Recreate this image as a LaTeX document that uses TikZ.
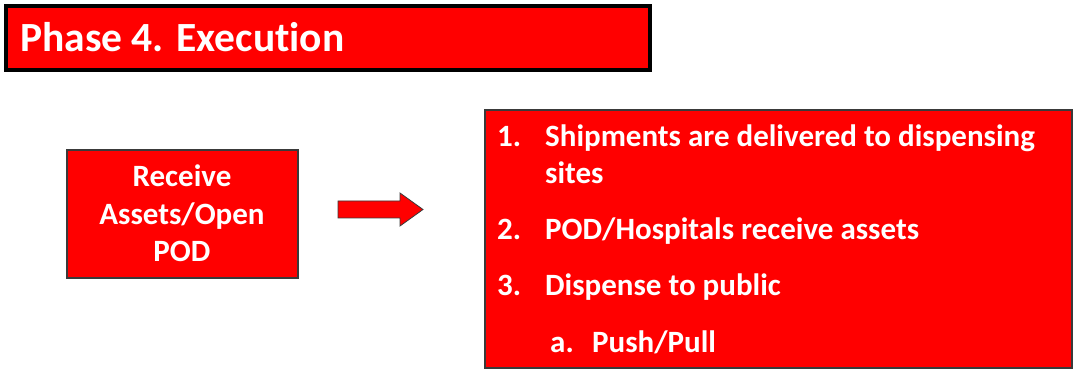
\documentclass[tikz,border=0pt]{standalone}
\usepackage{fontspec}
\setmainfont{Carlito}[Ligatures=NoCommon]
\definecolor{boxred}{HTML}{FF0000}
\definecolor{edge}{HTML}{3A3A3A}
\tikzset{
  redbox/.style={fill=boxred, draw=edge, line width=1.2pt},
  titlebox/.style={fill=boxred, draw=black, line width=4.5pt},
  txt/.style={text=white, font=\bfseries\fontsize{31}{36}\selectfont, inner sep=0pt, anchor=base west},
  ctxt/.style={text=white, font=\bfseries\fontsize{31}{36}\selectfont, inner sep=0pt, anchor=base},
}
\begin{document}
\begin{tikzpicture}[x=1pt, y=-1pt]
\useasboundingbox (0,0) rectangle (1077,371);
\fill[white] (0,0) rectangle (1077,371);

% heading bar
\draw[titlebox] (6,6) rectangle (650,70);
\node[text=white, font=\bfseries\fontsize{41.5}{48}\selectfont, inner sep=0pt, anchor=base west] (title) at (20,52) {Phase 4. Execution};

% step box on the left
\draw[redbox] (67,150) rectangle (298,278);
\node[ctxt] (l1) at (182,187) {Receive};
\node[ctxt] (l2) at (182,225) {Assets/Open};
\node[ctxt] (l3) at (182,262) {POD};

% block arrow
\draw[fill=boxred, draw=edge, line width=0.8pt]
  (338,201) -- (400,201) -- (400,193) -- (423,209.5) -- (400,226) -- (400,218) -- (338,218) -- cycle;

% task list box
\draw[redbox] (485,110) rectangle (1072,368);
\node[txt] (n1) at (497,147) {1.};
\node[txt] (t1) at (545,147) {Shipments are delivered to dispensing};
\node[txt] (t1b) at (545,184) {sites};
\node[txt] (n2) at (497,240) {2.};
\node[txt] (t2) at (545,240) {POD/Hospitals receive assets};
\node[txt] (n3) at (497,296) {3.};
\node[txt] (t3) at (545,296) {Dispense to public};
\node[txt] (na) at (550,353) {a.};
\node[txt] (ta) at (592,353) {Push/Pull};
\end{tikzpicture}
\end{document}
